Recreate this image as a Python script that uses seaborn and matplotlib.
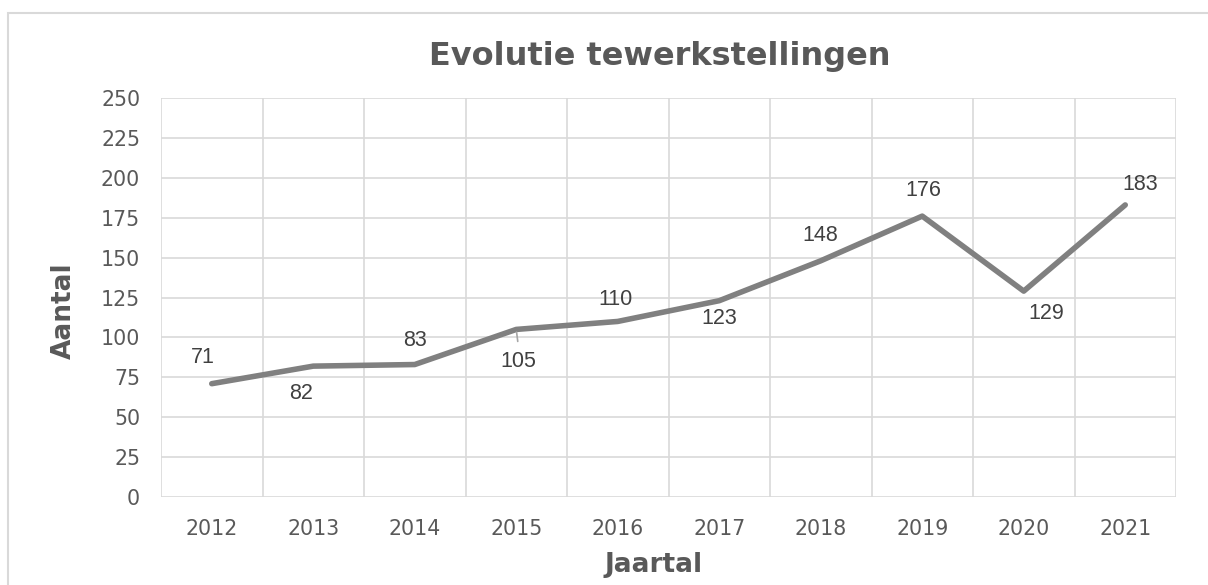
import pandas as pd
import matplotlib.pyplot as plt
from matplotlib.patches import Rectangle
import seaborn as sns

# Chart data
years = ['2012', '2013', '2014', '2015', '2016', '2017', '2018', '2019', '2020', '2021']
counts = [71, 82, 83, 105, 110, 123, 148, 176, 129, 183]

# label offsets in pixels (dx, dy), mimicking Excel's auto placement
label_offsets = [(-9, 26), (-12, -27), (0, 24), (2, -32), (-2, 22),
                 (0, -18), (0, 25), (1, 26), (22, -22), (15, 20)]

df = pd.DataFrame({'Jaartal': years, 'Aantal': counts})

sns.set_style('white')
plt.rcParams['font.family'] = ['DejaVu Sans']

text_col = '#595959'
grid_col = '#d9d9d9'

fig = plt.figure(figsize=(12.08, 5.85), dpi=100)
ax = fig.add_axes([161 / 1208, 88 / 585, 1015 / 1208, 399 / 585])

sns.lineplot(data=df, x='Jaartal', y='Aantal', ax=ax, color='#808080',
             linewidth=4, sort=False, solid_capstyle='round', solid_joinstyle='round')

ax.set_xlim(-0.5, len(years) - 0.5)
ax.set_ylim(0, 250)
ax.set_yticks(range(0, 251, 25))
ax.set_xticks(range(len(years)))
ax.set_xticklabels(years)
ax.set_xticks([i - 0.5 for i in range(len(years) + 1)], minor=True)

ax.grid(False)
ax.yaxis.grid(True, color=grid_col, linewidth=1.2)
ax.xaxis.grid(True, which='minor', color=grid_col, linewidth=1.2)
ax.set_axisbelow(True)
for s in ax.spines.values():
    s.set_visible(False)
ax.tick_params(axis='both', which='both', length=0, labelsize=14.8, labelcolor=text_col)
ax.tick_params(axis='x', pad=16)
ax.tick_params(axis='y', pad=15)

ax.set_xlabel('')
ax.set_ylabel('')

# data labels
for i, (v, off) in enumerate(zip(counts, label_offsets)):
    ax.annotate(str(v), (i, v), xytext=off, textcoords='offset pixels',
                ha='center', va='center', fontsize=15.5, color='#404040',
                family='Liberation Sans')
# leader line for 2015
ax.annotate('', (3, counts[3]), xytext=(1.5, -12), textcoords='offset pixels',
            arrowprops=dict(arrowstyle='-', color='#a6a6a6', lw=1.2, shrinkA=0, shrinkB=2))

fig.text(660 / 1208, 1 - 56 / 585, 'Evolutie tewerkstellingen', ha='center', va='center',
         fontsize=23, fontweight='bold', color=text_col)
fig.text(654 / 1208, 1 - 565 / 585, 'Jaartal', ha='center', va='center',
         fontsize=19, fontweight='bold', color=text_col)
fig.text(64 / 1208, 1 - 311 / 585, 'Aantal', ha='center', va='center', rotation=90,
         fontsize=19, fontweight='bold', color=text_col)

# outer chart border
fig.patches.append(Rectangle((8 / 1208, -0.1), 1.2, 572 / 585 + 0.1, transform=fig.transFigure,
                             fill=False, edgecolor=grid_col, linewidth=1.5))

fig.savefig('out.png', dpi=100, facecolor='white')
